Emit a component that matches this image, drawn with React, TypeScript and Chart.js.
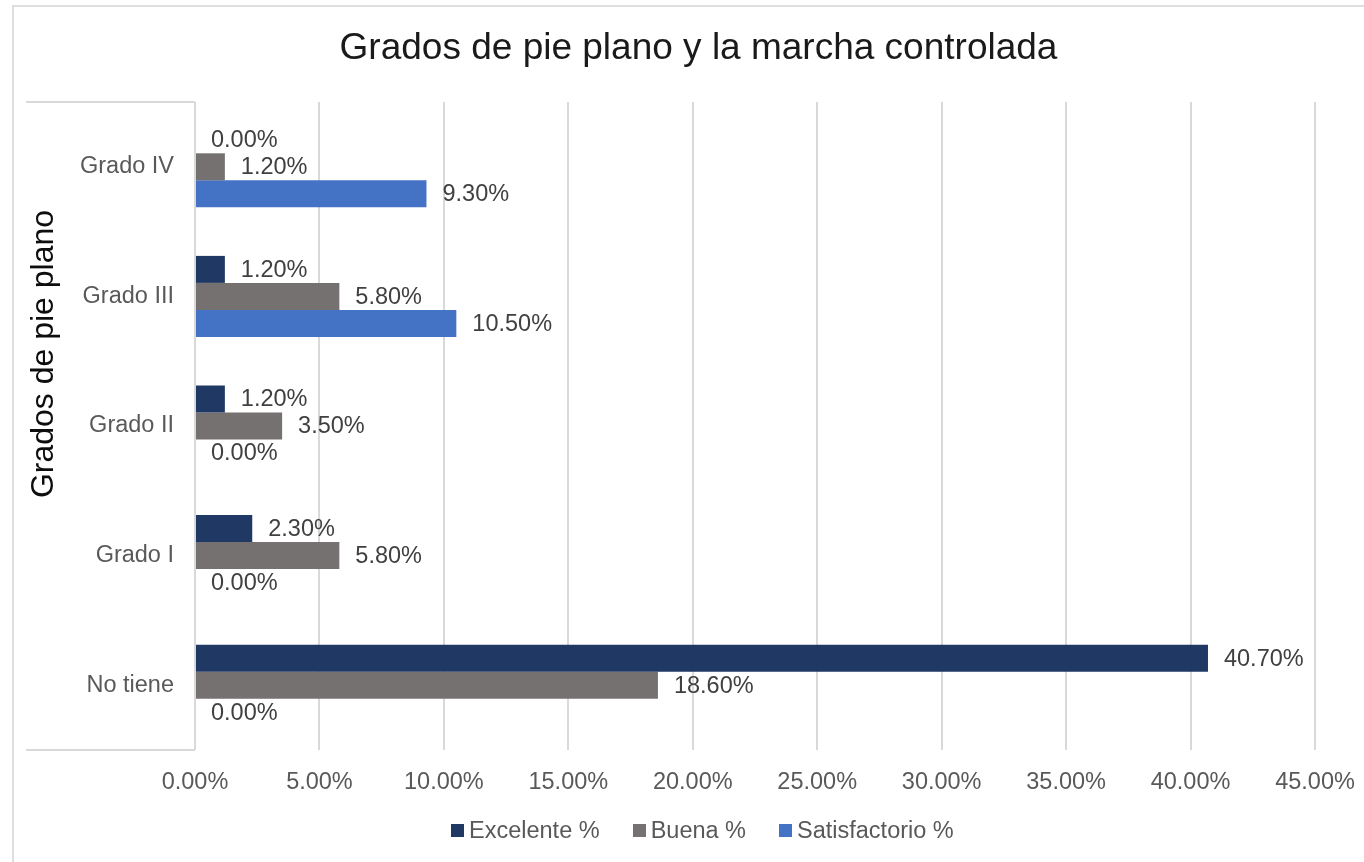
import React, { useEffect, useRef } from "react";
import { Chart, registerables } from "chart.js";

Chart.register(...registerables);

const categories = ["Grado IV", "Grado III", "Grado II", "Grado I", "No tiene"];
const excelente = [0, 1.2, 1.2, 2.3, 40.7];
const buena = [1.2, 5.8, 3.5, 5.8, 18.6];
const satisfactorio = [9.3, 10.5, 0, 0, 0];
const seriesNames = ["Excelente %", "Buena %", "Satisfactorio %"];
const seriesColors = ["#203864", "#767171", "#4472C4"];
const chartTitle = "Grados de pie plano y la marcha controlada";
const yAxisTitle = "Grados de pie plano";
const xMin = 0;
const xMax = 45;
const xStep = 5;

const FONT = '"Liberation Sans", Arial, sans-serif';

const decorPlugin = {
  id: "decor",
  beforeDatasetsDraw(chart: any) {
    const { ctx, chartArea } = chart;
    ctx.save();
    ctx.strokeStyle = "#d9d9d9";
    ctx.lineWidth = 2;
    ctx.beginPath();
    ctx.moveTo(14, chartArea.top);
    ctx.lineTo(chartArea.left, chartArea.top);
    ctx.moveTo(14, chartArea.bottom);
    ctx.lineTo(chartArea.left, chartArea.bottom);
    ctx.stroke();
    ctx.restore();
  },
  afterDraw(chart: any) {
    const { ctx } = chart;
    ctx.save();
    // title
    ctx.fillStyle = "#1a1a1a";
    ctx.font = `37px ${FONT}`;
    ctx.textAlign = "center";
    ctx.textBaseline = "middle";
    ctx.fillText(chartTitle, 686.5, 44);
    // y axis title
    ctx.translate(32, 349);
    ctx.rotate(-Math.PI / 2);
    ctx.font = `32px ${FONT}`;
    ctx.fillStyle = "#0d0d0d";
    ctx.fillText(yAxisTitle, 0, 0);
    ctx.restore();
  },
  afterDatasetsDraw(chart: any) {
    const { ctx } = chart;
    ctx.save();
    ctx.font = `23.5px ${FONT}`;
    ctx.fillStyle = "#404040";
    ctx.textAlign = "left";
    ctx.textBaseline = "middle";
    chart.data.datasets.forEach((ds: any, i: number) => {
      const meta = chart.getDatasetMeta(i);
      meta.data.forEach((bar: any, j: number) => {
        const v = ds.data[j];
        ctx.fillText(Number(v).toFixed(2) + "%", bar.x + 16, bar.y + 1);
      });
    });
    ctx.restore();
  },
};

export default function App() {
  const ref = useRef<HTMLCanvasElement>(null);

  useEffect(() => {
    if (!ref.current) return;
    const chart = new Chart(ref.current, {
      type: "bar",
      data: {
        labels: categories,
        datasets: [
          { label: seriesNames[0], data: excelente, backgroundColor: seriesColors[0] },
          { label: seriesNames[1], data: buena, backgroundColor: seriesColors[1] },
          { label: seriesNames[2], data: satisfactorio, backgroundColor: seriesColors[2] },
        ],
      },
      options: {
        indexAxis: "y",
        responsive: false,
        animation: false,
        devicePixelRatio: 1,
        layout: { padding: { left: 0, right: 75, top: 97, bottom: 62 } },
        datasets: {
          bar: { categoryPercentage: 0.625, barPercentage: 1 },
        },
        plugins: {
          legend: { display: false },
          title: { display: false },
          tooltip: { enabled: false },
        },
        scales: {
          x: {
            type: "linear",
            min: xMin,
            max: xMax,
            afterFit: (s: any) => {
              s.height = 50;
            },
            border: { display: false },
            grid: { color: "#d9d9d9", lineWidth: 2, drawTicks: false },
            ticks: {
              stepSize: xStep,
              padding: 18,
              color: "#595959",
              font: { family: FONT, size: 23.5 },
              callback: (v: any) => Number(v).toFixed(2) + "%",
            },
          },
          y: {
            type: "category",
            afterFit: (s: any) => {
              s.width = 183;
            },
            border: { display: false },
            grid: { display: false, drawTicks: false },
            ticks: {
              padding: 21,
              color: "#595959",
              font: { family: FONT, size: 23.5 },
            },
          },
        },
      },
      plugins: [decorPlugin],
    });
    return () => chart.destroy();
  }, []);

  return (
    <div
      style={{
        position: "fixed",
        left: 0,
        top: 0,
        width: 1364,
        height: 862,
        overflow: "hidden",
        background: "#fff",
      }}
    >
      <div
        style={{
          position: "absolute",
          left: 12,
          top: 5,
          width: 1400,
          height: 900,
          border: "2px solid #dedede",
          boxSizing: "border-box",
        }}
      />
      <div style={{ position: "absolute", left: 12, top: 5, width: 1378, height: 857 }}>
        <canvas ref={ref} width={1378} height={857} style={{ display: "block" }} />
      </div>
      <div
        style={{
          position: "absolute",
          left: 451,
          top: 816,
          display: "flex",
          alignItems: "center",
          fontFamily: FONT,
          fontSize: 23.5,
          color: "#595959",
          whiteSpace: "nowrap",
          lineHeight: "28px",
        }}
      >
        {seriesNames.map((name, i) => (
          <div
            key={name}
            style={{ display: "flex", alignItems: "center", marginRight: i < seriesNames.length - 1 ? 33 : 0 }}
          >
            <span
              style={{
                display: "inline-block",
                width: 13,
                height: 13,
                background: seriesColors[i],
                marginRight: 5,
              }}
            />
            <span>{name}</span>
          </div>
        ))}
      </div>
    </div>
  );
}
